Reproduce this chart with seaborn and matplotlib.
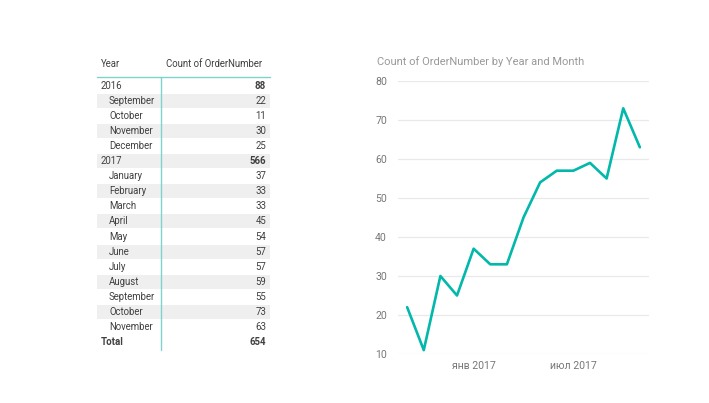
import matplotlib
matplotlib.use("Agg")
import matplotlib.pyplot as plt
import seaborn as sns
import pandas as pd
import numpy as np

# ---- data ----
months_2016 = ["September", "October", "November", "December"]
values_2016 = [22, 11, 30, 25]
months_2017 = ["January", "February", "March", "April", "May", "June",
               "July", "August", "September", "October", "November"]
values_2017 = [37, 33, 33, 45, 54, 57, 57, 59, 55, 73, 63]
years = ["2016", "2017"]
year_totals = [88, 566]
grand_total = 654
x_tick_labels = ["янв 2017", "июл 2017"]
x_tick_pos = [4, 10]  # month index of Jan 2017 and Jul 2017
y_ticks = [10, 20, 30, 40, 50, 60, 70, 80]

sns.set_theme(style="white")
plt.rcParams["font.family"] = ["Roboto", "DejaVu Sans"]

W, H = 709, 403
fig = plt.figure(figsize=(W / 100, H / 100), dpi=100)
fig.patch.set_facecolor("white")

# ---- table (drawn in pixel coords) ----
tab = fig.add_axes([0, 0, 1, 1])
tab.set_xlim(0, W)
tab.set_ylim(H, 0)
tab.axis("off")

teal = "#01B8AA"
txt = "#404040"
fs = 6.9

rows = []
rows.append((years[0], year_totals[0], False, True, False))
for m, v in zip(months_2016, values_2016):
    rows.append((m, v, False, False, True))
rows.append((years[1], year_totals[1], False, True, False))
for m, v in zip(months_2017, values_2017):
    rows.append((m, v, False, False, True))
rows.append(("Total", grand_total, True, True, False))

x0, x1 = 97, 270
y_first = 86.0
step = 15.05
for i, (lab, val, bold_lab, bold_val, indent) in enumerate(rows):
    yc = y_first + i * step
    if i % 2 == 1 and lab != "Total":
        tab.add_patch(plt.Rectangle((x0, yc - step / 2 + 0.5), x1 - x0, step - 1.0,
                                    facecolor="#efefef", edgecolor="none", zorder=0))
    tab.text(x0 + 4 + (8 if indent else 0), yc, lab, fontsize=fs, color=txt,
             ha="left", va="center", fontweight="bold" if bold_lab else "normal")
    tab.text(x1 - 4, yc, str(val), fontsize=fs, color=txt,
             ha="right", va="center", fontweight="bold" if bold_val else "normal")

tab.text(x0 + 4, 64, "Year", fontsize=fs, color=txt, ha="left", va="center")
tab.text(166, 64, "Count of OrderNumber", fontsize=fs, color=txt, ha="left", va="center")
tab.plot([x0, x1], [77, 77], color="#7fd3cf", lw=1.0, zorder=3)
tab.plot([161, 161], [77, 350], color="#7fd3cf", lw=1.0, zorder=3)

# ---- line chart ----
all_vals = values_2016 + values_2017
df = pd.DataFrame({"idx": np.arange(len(all_vals)), "count": all_vals})

left, right = 398 / W, 649 / W
bottom, top = (H - 354) / H, (H - 81) / H
ax = fig.add_axes([left, bottom, right - left, top - bottom])
sns.lineplot(data=df, x="idx", y="count", ax=ax, color=teal, linewidth=1.9)
ax.set_xlim(-0.55, len(all_vals) - 1 + 0.55)
ax.set_ylim(10, 80)
ax.set_yticks(y_ticks)
ax.set_xticks(x_tick_pos)
ax.set_xticklabels(x_tick_labels)
ax.set_xlabel("")
ax.set_ylabel("")
for s in ax.spines.values():
    s.set_visible(False)
ax.grid(axis="y", color="#e9e9e9", linewidth=0.9)
ax.grid(axis="x", visible=False)
ax.set_axisbelow(True)
ax.tick_params(axis="y", labelsize=7.6, colors="#777777", pad=8, length=0)
ax.tick_params(axis="x", labelsize=7.6, colors="#777777", pad=5, length=0)
ax.set_facecolor("none")

fig.text(377 / W, (H - 62) / H, "Count of OrderNumber by Year and Month",
         fontsize=8.0, color="#999999", ha="left", va="center")

fig.savefig("out.png", dpi=100, facecolor="white")
